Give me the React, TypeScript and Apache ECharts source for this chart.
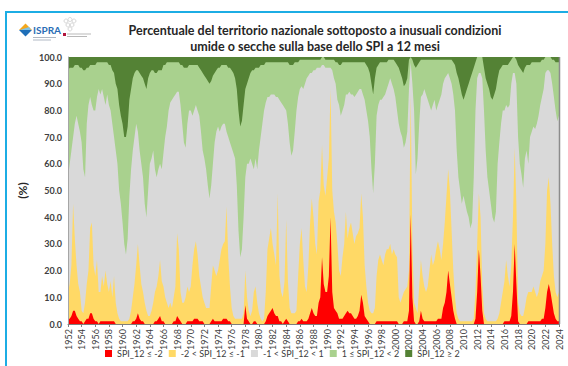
import React, { useEffect, useRef } from "react";
import * as echarts from "echarts";

// quarterly values (4 per year) from 1952 Q1, final value at 2024.0
const START_YEAR = 1952;
const STEPS_PER_YEAR = 4;

const seriesNames = ["SPI_12 ≤ -2", "-2 < SPI_12 ≤ -1", "-1 < SPI_12 < 1", "1 ≤ SPI_12 < 2", "SPI_12 ≥ 2"];
const seriesColors = ["#FF0000", "#FFD966", "#D9D9D9", "#A9D18E", "#548235"];

const xTickMin = 1952;
const xTickMax = 2024;
const xTickStep = 2;
const yTickMax = 100;
const yTickStep = 10;

const titleLines = [
  "Percentuale del territorio nazionale sottoposto a inusuali condizioni",
  "umide o secche sulla base dello SPI a 12 mesi",
];

const extremeDry = [
  2,2,3,5, 5,3,2,1, 1,0,1,2, 2,4,4,2, 1,1,0,1, 1,1,1,1, 1,1,1,1, 0,0,0,0,
  0,0,0,0, 0,0,1,1, 2,4,2,1, 1,0,0,0, 0,0,0,1, 1,2,3,1, 1,0,0,0, 0,0,1,1,
  3,2,1,0, 0,0,1,1, 1,1,2,2, 2,1,1,1, 0,0,0,0, 1,2,1,1, 1,1,1,2, 2,2,1,1,
  0,0,0,0, 0,0,0,0, 7,2,1,0, 0,1,1,0, 0,0,0,0, 1,3,4,5, 6,4,3,3, 1,1,0,1,
  2,1,0,0, 0,0,0,1, 1,2,1,1, 1,2,4,6, 4,3,3,8, 10,25,15,12, 12,18,40,12, 6,5,4,2,
  2,2,3,4, 5,4,4,3, 2,2,3,5, 11,8,3,2, 1,0,0,0, 0,1,1,1, 1,1,1,1, 1,1,1,1,
  1,1,0,0, 0,1,1,1, 5,41,10,1, 0,0,1,5, 2,1,1,1, 1,1,1,1, 1,2,2,2, 6,8,12,20,
  15,10,5,2, 0,0,0,0, 0,0,0,0, 0,0,0,2, 12,28,18,5, 0,0,0,0, 0,0,0,0, 0,0,0,0,
  1,1,1,1, 3,12,30,15, 1,0,0,0, 0,0,1,1, 1,1,1,1, 1,1,2,2, 6,12,15,12, 8,4,2,1,
  1,
];

const moderateDry = [
  10,13,19,40, 27,19,13,11, 4,4,7,13, 18,32,34,20, 17,23,12,11, 17,13,19,14, 11,15,9,17, 8,4,2,1,
  1,1,1,1, 2,5,9,14, 20,26,20,14, 11,8,5,3, 3,5,8,11, 13,16,21,15, 13,10,8,6, 8,6,9,13,
  31,26,11,8, 8,10,13,11, 13,21,26,29, 24,17,13,9, 8,6,6,6, 13,20,19,17, 19,23,27,28, 29,42,24,13,
  6,3,2,2, 2,2,2,4, 13,8,4,3, 5,11,13,8, 4,2,1,2, 11,25,28,31, 24,22,19,46, 17,11,10,15,
  37,15,6,4, 4,4,5,17, 29,34,23,13, 11,20,34,41, 36,27,23,38, 40,42,37,36, 43,44,48,38, 36,33,26,18,
  16,23,27,38, 27,32,34,31, 28,31,31,31, 38,32,19,12, 7,5,4,4, 6,17,23,25, 23,21,25,27, 27,29,25,27,
  25,24,10,8, 10,11,12,13, 15,45,20,7, 6,4,13,19, 16,13,11,13, 19,25,21,23, 27,29,26,22, 24,30,36,38,
  35,25,15,8, 4,2,1,1, 1,1,1,1, 1,1,2,10, 18,21,22,10, 4,2,1,1, 1,1,1,1, 2,4,8,12,
  15,23,17,13, 19,28,36,30, 7,4,3,3, 6,10,11,11, 11,13,11,9, 11,15,16,18, 24,38,40,33, 22,14,10,9,
  11,
];

const moderateWet = [
  40,36,31,26, 22,19,22,24, 28,37,40,21, 14,12,15,17, 17,13,10,12, 10,13,16,12, 15,17,20,24, 25,28,32,33,
  37,40,44,42, 36,30,27,24, 20,23,29,33, 37,45,48,42, 34,33,30,36, 39,37,35,37, 33,27,24,18, 15,14,13,12,
  11,11,15,22, 28,30,21,17, 17,19,17,15, 17,18,23,29, 31,34,39,43, 39,33,26,23, 22,24,23,22, 22,25,26,28,
  29,30,30,36, 45,49,48,42, 33,30,32,32, 35,37,34,38, 31,27,22,17, 15,13,13,12, 12,12,13,13, 14,15,16,17,
  18,23,29,34, 32,26,18,13, 11,10,11,9, 7,6,5,5, 4,4,3,3, 3,3,3,3, 3,3,3,4, 7,8,14,15,
  19,18,16,12, 12,11,12,12, 13,12,11,10, 10,12,14,17, 20,24,32,37, 32,18,15,14, 14,13,12,10, 9,7,9,11,
  13,17,21,22, 22,23,22,20, 11,2,9,17, 40,35,23,14, 13,11,13,15, 17,19,17,15, 19,17,15,13, 9,7,6,5,
  7,9,12,17, 29,37,39,41, 36,41,46,50, 56,56,41,18, 8,6,6,8, 16,27,35,38, 40,44,48,46, 32,27,21,17,
  17,15,16,16, 9,6,6,9, 27,36,39,43, 34,32,37,27, 26,24,25,23, 20,16,14,11, 6,5,5,6, 9,14,18,22,
  20,
];

const extremeWet = [
  5,4,4,4, 3,3,3,4, 4,5,5,4, 4,3,3,3, 3,2,2,2, 2,2,2,2, 3,3,5,6, 10,12,18,22,
  25,30,30,26, 16,12,8,6, 5,5,6,7, 8,10,12,8, 6,5,5,6, 6,5,5,5, 3,3,2,2, 2,2,2,2,
  2,2,3,3, 4,4,4,3, 3,3,3,3, 3,4,5,6, 7,8,9,10, 9,7,6,5, 4,4,3,3, 3,3,4,4,
  5,6,8,12, 20,26,24,18, 12,10,8,6, 5,5,4,4, 4,3,3,3, 2,2,2,2, 2,2,2,2, 2,2,2,2,
  2,2,3,3, 3,2,2,2, 1,1,1,1, 1,1,1,1, 1,1,1,1, 1,0,0,1, 1,1,1,1, 1,2,2,3,
  3,2,2,2, 2,2,2,2, 2,2,2,2, 2,2,2,3, 4,6,10,14, 8,4,3,2, 2,2,2,2, 1,1,1,1,
  2,3,4,6, 8,11,10,8, 1,0,1,3, 4,3,2,1, 1,1,1,1, 1,1,1,1, 1,1,1,1, 1,1,1,1,
  1,1,2,3, 6,8,11,14, 16,14,12,10, 8,6,4,2, 0,0,0,0, 4,8,10,12, 15,16,14,12, 8,5,4,3,
  3,3,3,2, 1,0,0,1, 3,4,5,6, 4,3,3,3, 2,2,2,2, 2,2,1,1, 0,0,0,0, 1,1,2,2,
  2,
];

// normal class = remainder of the 100% territory
const normal = extremeDry.map((v, i) => 100 - v - moderateDry[i] - moderateWet[i] - extremeWet[i]);

const FONT = "Lato, 'DejaVu Sans', sans-serif";

export default function App() {
  const ref = useRef<HTMLDivElement>(null);

  useEffect(() => {
    if (!ref.current) return;
    const chart = echarts.init(ref.current, undefined, { renderer: "svg" });
    const classes = [extremeDry, moderateDry, normal, moderateWet, extremeWet];
    // cumulative upper boundary of each class (stacked from the bottom)
    const cumulative: number[][] = [];
    classes.forEach((vals, k) => {
      cumulative.push(vals.map((v, i) => (k === 0 ? v : cumulative[k - 1][i] + v)));
    });
    const series: any[] = [];
    for (let k = classes.length - 1; k >= 0; k--) {
      series.push({
        name: seriesNames[k],
        type: "line",
        data: cumulative[k].map((v, i) => [START_YEAR + i / STEPS_PER_YEAR, v]),
        symbol: "none",
        silent: true,
        lineStyle: { width: 0, color: seriesColors[k] },
        itemStyle: { color: seriesColors[k] },
        areaStyle: { color: seriesColors[k], opacity: 1, origin: "start" },
      });
    }

    chart.setOption({
      animation: false,
      backgroundColor: "#ffffff",
      grid: { left: 68, right: 9, top: 57, bottom: 42 },
      xAxis: {
        type: "value",
        min: xTickMin,
        max: xTickMax,
        interval: xTickStep,
        axisLabel: {
          rotate: 90,
          fontSize: 9,
          color: "#404040",
          fontFamily: FONT,
          margin: 5,
          formatter: (v: number) => String(v),
        },
        axisTick: { show: true, length: 3, lineStyle: { color: "#7f7f7f" } },
        axisLine: { show: true, lineStyle: { color: "#7f7f7f", width: 1 } },
        splitLine: { show: false },
        z: 5,
      },
      yAxis: {
        type: "value",
        min: 0,
        max: yTickMax,
        interval: yTickStep,
        name: "(%)",
        nameLocation: "middle",
        nameRotate: 90,
        nameGap: 31,
        nameTextStyle: { fontSize: 12, fontWeight: "bold", color: "#262626", fontFamily: FONT },
        axisLabel: {
          fontSize: 9,
          fontWeight: "bold",
          color: "#404040",
          fontFamily: FONT,
          margin: 6,
          formatter: (v: number) => v.toFixed(1),
        },
        axisTick: { show: false },
        axisLine: { show: true, lineStyle: { color: "#a6a6a6" } },
        splitLine: { show: false },
        z: 5,
      },
      legend: {
        data: seriesNames,
        left: 100,
        top: 344,
        icon: "rect",
        itemWidth: 7,
        itemHeight: 7,
        itemGap: 6,
        textStyle: { fontSize: 9, color: "#404040", fontFamily: FONT },
        selectedMode: false,
      },
      graphic: [
        {
          type: "rect",
          shape: { x: 6, y: 12, width: 620, height: 420 },
          style: { fill: "none", stroke: "#1CADE4", lineWidth: 2 },
          silent: true,
        },
        {
          type: "line",
          z: 10,
          shape: { x1: 559.5, y1: 57, x2: 559.5, y2: 324 },
          style: { stroke: "#8c8c8c", lineWidth: 1.5 },
          silent: true,
        },
        {
          type: "text",
          style: {
            text: titleLines[0], x: 315, y: 30, textAlign: "center", textVerticalAlign: "middle",
            font: `bold 12.5px ${FONT}`, fill: "#262626",
          },
        },
        {
          type: "text",
          style: {
            text: titleLines[1], x: 315, y: 46, textAlign: "center", textVerticalAlign: "middle",
            font: `bold 12.5px ${FONT}`, fill: "#262626",
          },
        },
        // ISPRA logo
        { type: "polygon", shape: { points: [[19, 30], [25.5, 23.5], [32, 30]] }, style: { fill: "#F4A81D" }, silent: true },
        { type: "polygon", shape: { points: [[19, 30], [32, 30], [25.5, 36.5]] }, style: { fill: "#1F6FB8" }, silent: true },
        { type: "polygon", shape: { points: [[20, 30], [29, 27], [31, 30]] }, style: { fill: "#7EC3EA" }, silent: true },
        {
          type: "text",
          style: { text: "ISPRA", x: 33, y: 30, textVerticalAlign: "middle", font: `bold 10px ${FONT}`, fill: "#2A6DB5" },
        },
        { type: "rect", shape: { x: 33, y: 37, width: 23, height: 1 }, style: { fill: "#b0b8c4" }, silent: true },
        { type: "rect", shape: { x: 33, y: 39.5, width: 18, height: 1 }, style: { fill: "#b0b8c4" }, silent: true },
        // partner logo
        { type: "circle", shape: { cx: 66, cy: 21, r: 2 }, style: { fill: "none", stroke: "#c8c8c8", lineWidth: 0.7 }, silent: true },
        { type: "circle", shape: { cx: 70, cy: 19.5, r: 2 }, style: { fill: "none", stroke: "#c8c8c8", lineWidth: 0.7 }, silent: true },
        { type: "circle", shape: { cx: 74, cy: 21, r: 2 }, style: { fill: "none", stroke: "#c8c8c8", lineWidth: 0.7 }, silent: true },
        { type: "circle", shape: { cx: 68, cy: 25, r: 2 }, style: { fill: "none", stroke: "#c8c8c8", lineWidth: 0.7 }, silent: true },
        { type: "circle", shape: { cx: 72, cy: 25, r: 2 }, style: { fill: "none", stroke: "#c8c8c8", lineWidth: 0.7 }, silent: true },
        { type: "circle", shape: { cx: 70, cy: 29, r: 2 }, style: { fill: "none", stroke: "#c8c8c8", lineWidth: 0.7 }, silent: true },
        { type: "rect", shape: { x: 63, y: 33, width: 3, height: 3 }, style: { fill: "#B0143C" }, silent: true },
        { type: "rect", shape: { x: 67, y: 33.5, width: 24, height: 1 }, style: { fill: "#b8b8b8" }, silent: true },
        { type: "rect", shape: { x: 67, y: 36, width: 20, height: 1 }, style: { fill: "#b8b8b8" }, silent: true },
      ],
      series,
    });
    return () => chart.dispose();
  }, []);

  return (
    <div
      ref={ref}
      style={{ position: "absolute", left: 0, top: 0, width: 568, height: 366, background: "#fff" }}
    />
  );
}
